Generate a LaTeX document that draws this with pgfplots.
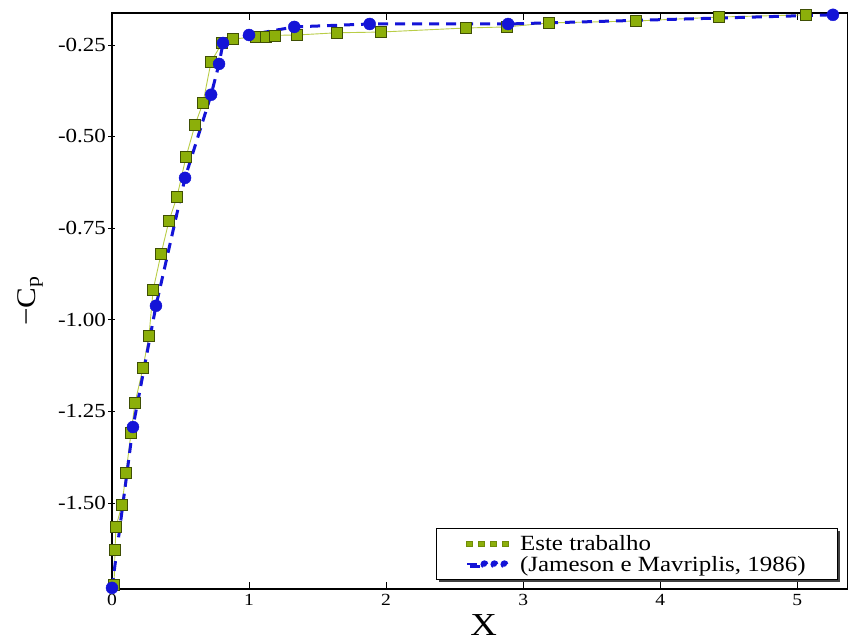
\documentclass[border=0pt]{standalone}
\usepackage{fontspec}
\setmainfont{Liberation Serif}[FakeStretch=1.15]
\usepackage{pgfplots}
\pgfplotsset{compat=1.18}
\usetikzlibrary{shadows}
\definecolor{gfill}{RGB}{140,175,10}
\definecolor{gline}{RGB}{185,205,70}
\definecolor{bcol}{RGB}{20,20,215}
\begin{document}
\begin{tikzpicture}
\begin{axis}[
  scale only axis,
  width=736pt, height=576pt,
  xmin=0, xmax=5.37, ymin=-1.735, ymax=-0.163,
  xtick={0,1,2,3,4,5},
  ytick={-1.5,-1.25,-1,-0.75,-0.5,-0.25},
  yticklabel style={/pgf/number format/fixed, /pgf/number format/fixed zerofill, /pgf/number format/precision=2, font=\fontsize{20}{20}\selectfont, xshift=1pt},
  /pgf/number format/assume math mode=true,
  xticklabel style={font=\fontsize{17}{17}\selectfont, yshift=-2pt},
  axis line style={line width=1.6pt},
  every tick/.style={black, line width=0.6pt},
  major tick length=7pt,
  xtick pos=both, ytick pos=left,
  xtick align=inside, ytick align=center,
  xlabel={X},
  xlabel style={font=\fontsize{32}{32}\selectfont, at={(axis description cs:0.505,0)}, anchor=north, yshift=-22pt},
  ylabel={−C\textsubscript{p}},
  ylabel style={font=\fontsize{27}{27}\selectfont, at={(axis description cs:0,0.5)}, anchor=center, yshift=82pt},
  legend style={at={(rel axis cs:1,0)}, anchor=south east, xshift=-10pt, yshift=9pt,
    draw=black, line width=0.8pt, fill=white,
    drop shadow={shadow xshift=2.5pt, shadow yshift=-2.5pt, opacity=1, fill=black!75},
    font=\fontsize{21.7}{22}\selectfont, inner xsep=30pt, inner ysep=5pt,
    row sep=0pt,
    /tikz/every odd column/.append style={column sep=10pt}},
  legend cell align=left,
]
\coordinate (sw) at (rel axis cs:0,0);
\coordinate (ne) at (rel axis cs:1,1);
\addplot[color=gline, line width=0.9pt, mark=square*, mark size=5.5pt,
  mark options={fill=gfill, draw=black!55!gfill, line width=0.6pt, solid},
  legend image code/.code={\draw[only marks, mark=square*, mark size=2.6pt, mark options={fill=gfill, draw=gfill!80!black}] plot coordinates {(0pt,0pt) (12pt,0pt) (24pt,0pt) (36pt,0pt)};}]
coordinates {
(0.015,-1.724) (0.022,-1.628) (0.029,-1.565) (0.073,-1.505) (0.102,-1.418)
(0.139,-1.309) (0.168,-1.227) (0.226,-1.132) (0.270,-1.044) (0.300,-0.919)
(0.358,-0.820) (0.416,-0.730) (0.474,-0.665) (0.540,-0.556) (0.606,-0.468)
(0.664,-0.408) (0.723,-0.296) (0.803,-0.245) (0.883,-0.234) (1.050,-0.228)
(1.120,-0.228) (1.190,-0.224) (1.350,-0.223) (1.640,-0.217) (1.960,-0.215)
(2.580,-0.204) (2.880,-0.201) (3.190,-0.190) (3.820,-0.185) (4.430,-0.174)
(5.060,-0.168)
};
\addlegendentry{Este trabalho}
\addplot[color=bcol, line width=3pt, dash pattern=on 10pt off 7pt, mark=*, mark size=6pt,
  mark options={fill=bcol, draw=bcol, solid, line width=0.4pt},
  legend image code/.code={\draw[bcol, line width=2.2pt] (-2pt,0pt) -- (9pt,0pt);
    \draw[only marks, mark=*, mark size=2.4pt, mark options={fill=bcol, draw=bcol}] plot coordinates {(15pt,0pt) (25pt,0pt) (35pt,0pt)};}]
coordinates {
(0.000,-1.732) (0.153,-1.293) (0.321,-0.962) (0.533,-0.613) (0.723,-0.386)
(0.781,-0.302) (0.810,-0.245) (1.000,-0.223) (1.330,-0.201) (1.880,-0.193)
(2.890,-0.193) (5.260,-0.168)
};
\addlegendentry{(Jameson e Mavriplis, 1986)}
\end{axis}
\pgfresetboundingbox
\path ([shift={(-112pt,-50pt)}]sw) rectangle ([shift={(0pt,13pt)}]ne);
\end{tikzpicture}
\end{document}
